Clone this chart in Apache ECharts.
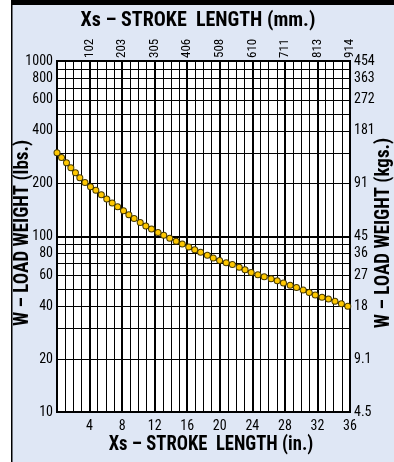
<!DOCTYPE html>
<html>
<head>
<meta charset="utf-8">
<title>Load weight vs stroke length</title>
<script src="https://cdn.jsdelivr.net/npm/echarts@6/dist/echarts.min.js"></script>
<style>
  html, body { margin: 0; padding: 0; background: #fff; }
  #chart { width: 394px; height: 462px; }
</style>
</head>
<body>
<div id="chart"></div>
<script>
// stroke length (in.) and load weight (lbs.)
const strokeIn = [0, 1, 2, 3, 4, 5, 6, 8, 10, 12, 14, 16, 18, 20, 22, 24, 26, 28, 30, 32, 34, 36]
const loadLbs = [300, 268, 238, 212, 194, 180, 165, 142, 122, 108, 97, 88, 80, 73, 68, 62, 58, 54, 50, 46, 43, 39.5]

// top axis: mm equivalents of 4, 8, ... 36 in.
const mmLabels = ['102', '203', '305', '406', '508', '610', '711', '813', '914']
// log grid lines and the labelled ones
const lbsGrid = [10, 20, 30, 40, 50, 60, 70, 80, 90, 100, 200, 300, 400, 500, 600, 700, 800, 900, 1000]
const lbsLabels = [10, 20, 40, 60, 80, 100, 200, 400, 600, 800, 1000]
const kgLabels = ['4.5', '9.1', '18', '27', '36', '45', '91', '181', '272', '363', '454']

const FONT = "'Roboto Condensed', 'Liberation Sans', sans-serif"
const TITLE_FONT = "bold 20px 'Roboto Condensed', 'Liberation Sans', sans-serif"

const chart = echarts.init(document.getElementById('chart'), null, { renderer: 'canvas' })

const points = strokeIn.map((x, i) => [x, loadLbs[i]])

function titleText(text, x, y, scaleX, rotation) {
  return {
    type: 'text',
    x: x,
    y: y,
    rotation: rotation || 0,
    scaleX: scaleX,
    z: 10,
    style: { text: text, font: TITLE_FONT, fill: '#000', textAlign: 'center', textVerticalAlign: 'middle' }
  }
}

chart.setOption({
  backgroundColor: '#dfe7f5',
  animation: false,
  graphic: [
    // white strip, left rule and top bar of the frame
    { type: 'rect', left: 0, top: 0, shape: { width: 11, height: 462 }, style: { fill: '#fff' } },
    { type: 'rect', left: 11, top: 0, shape: { width: 1.5, height: 462 }, style: { fill: '#000' } },
    { type: 'rect', left: 11, top: 0, shape: { width: 383, height: 5 }, style: { fill: '#000' } },
    titleText('Xs – STROKE  LENGTH (mm.)', 198, 21, 1),
    titleText('Xs – STROKE  LENGTH (in.)', 211, 445, 0.93),
    titleText('W – LOAD WEIGHT (lbs.)', 23, 233, 0.95, Math.PI / 2),
    titleText('W – LOAD WEIGHT (kgs.)', 384, 233, 0.95, Math.PI / 2)
  ],
  grid: {
    left: 57,
    right: 44,
    top: 61,
    bottom: 50,
    show: true,
    backgroundColor: '#fff',
    borderColor: '#000',
    borderWidth: 2
  },
  xAxis: [
    {
      type: 'value',
      position: 'bottom',
      min: 0,
      max: 36,
      interval: 4,
      axisLine: { show: false },
      axisTick: { show: false },
      axisLabel: {
        margin: 7,
        fontFamily: FONT,
        fontSize: 14,
        color: '#000',
        formatter: v => (v === 0 ? '' : String(v))
      },
      splitLine: { show: true, lineStyle: { color: '#000', width: 2 } },
      minorTick: { show: false, splitNumber: 4 },
      minorSplitLine: { show: true, lineStyle: { color: '#000', width: 1 } }
    },
    {
      type: 'value',
      position: 'top',
      min: 0,
      max: 36,
      interval: 4,
      axisLine: { show: false },
      axisTick: { show: false },
      axisLabel: {
        rotate: -90,
        margin: 3,
        fontFamily: FONT,
        fontSize: 13,
        color: '#000',
        formatter: v => mmLabels[v / 4 - 1] || ''
      },
      splitLine: { show: false }
    }
  ],
  yAxis: [
    {
      type: 'log',
      logBase: 10,
      position: 'left',
      min: 10,
      max: 1000,
      axisLine: { show: false },
      axisTick: { show: false, customValues: lbsGrid },
      axisLabel: {
        customValues: lbsLabels,
        margin: 4,
        fontFamily: FONT,
        fontSize: 14,
        color: '#000',
        formatter: v => String(Math.round(v))
      },
      splitLine: { show: true, lineStyle: { color: '#000', width: 1 } }
    },
    {
      type: 'log',
      logBase: 10,
      position: 'right',
      min: 10,
      max: 1000,
      axisLine: { show: false },
      axisTick: { show: false, customValues: [100] },
      axisLabel: {
        customValues: lbsLabels,
        margin: 4,
        fontFamily: FONT,
        fontSize: 14,
        color: '#000',
        formatter: v => kgLabels[lbsLabels.indexOf(Math.round(v))]
      },
      splitLine: { show: true, lineStyle: { color: '#000', width: 2 } }
    }
  ],
  series: [
    {
      // dark rim of the dots
      type: 'line',
      xAxisIndex: 0,
      yAxisIndex: 0,
      data: points,
      smooth: true,
      showSymbol: false,
      lineStyle: { color: '#4a3c00', width: 7, type: [0, 6.8], cap: 'round' },
      z: 5
    },
    {
      type: 'line',
      xAxisIndex: 0,
      yAxisIndex: 0,
      data: points,
      smooth: true,
      showSymbol: false,
      lineStyle: { color: '#ffc800', width: 5, type: [0, 6.8], cap: 'round' },
      z: 6
    }
  ]
})
</script>
</body>
</html>
